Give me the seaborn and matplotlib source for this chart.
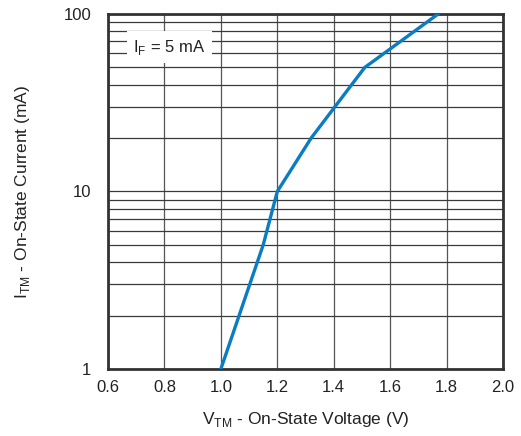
import matplotlib
matplotlib.use('Agg')
import matplotlib.pyplot as plt
import seaborn as sns
import numpy as np
from matplotlib.ticker import FixedLocator, FixedFormatter, NullFormatter

# on-state voltage (V) vs on-state current (mA)
v_tm = [1.0, 1.15, 1.2, 1.32, 1.51, 1.77]
i_tm = [1, 5, 10, 20, 50, 100]

x_ticks = [0.6, 0.8, 1.0, 1.2, 1.4, 1.6, 1.8, 2.0]
x_labels = ['0.6', '0.8', '1.0', '1.2', '1.4', '1.6', '1.8', '2.0']
y_ticks = [1, 10, 100]
y_labels = ['1', '10', '100']
y_minor = [2, 3, 4, 5, 6, 7, 8, 9, 20, 30, 40, 50, 60, 70, 80, 90]

sns.set_style('white')
plt.rcParams['font.family'] = ['Liberation Sans', 'DejaVu Sans']
plt.rcParams['mathtext.fontset'] = 'custom'
plt.rcParams['mathtext.rm'] = 'Liberation Sans'

fig = plt.figure(figsize=(5.21, 4.36), dpi=100)
ax = fig.add_axes([0.2073, 0.1537, 0.7582, 0.8142])

sns.lineplot(x=v_tm, y=i_tm, ax=ax, color='#0a7dc2', linewidth=2.4, zorder=5)

ax.set_yscale('log')
ax.set_xlim(0.6, 2.0)
ax.set_ylim(1, 100)

ax.xaxis.set_major_locator(FixedLocator(x_ticks))
ax.xaxis.set_major_formatter(FixedFormatter(x_labels))
ax.yaxis.set_major_locator(FixedLocator(y_ticks))
ax.yaxis.set_major_formatter(FixedFormatter(y_labels))
ax.yaxis.set_minor_locator(FixedLocator(y_minor))
ax.yaxis.set_minor_formatter(NullFormatter())

ax.grid(True, which='major', axis='x', color='#555555', linewidth=0.9)
ax.grid(True, which='both', axis='y', color='#3a3a3a', linewidth=0.9)
ax.set_axisbelow(True)

ax.tick_params(axis='x', which='both', length=0, pad=8, labelsize=12, colors='#222222')
ax.tick_params(axis='y', which='both', length=0, pad=12, labelsize=12, colors='#222222')

for sp in ax.spines.values():
    sp.set_linewidth(2.0)
    sp.set_color('#333333')

ax.set_xlabel(r'V$_{\mathregular{TM}}$ - On-State Voltage (V)', fontsize=12.5, color='#222222')
ax.set_ylabel(r'I$_{\mathregular{TM}}$ - On-State Current (mA)', fontsize=12.5, color='#222222')
ax.xaxis.set_label_coords(0.5, -0.115)
ax.yaxis.set_label_coords(-0.193, 0.5)

ax.text(0.689, 65, r'I$_{\mathregular{F}}$ = 5 mA', fontsize=12, color='#222222',
        va='center', ha='left', zorder=6,
        bbox=dict(facecolor='white', edgecolor='none', pad=4.5))

plt.savefig('out.png', dpi=100)
plt.close()
